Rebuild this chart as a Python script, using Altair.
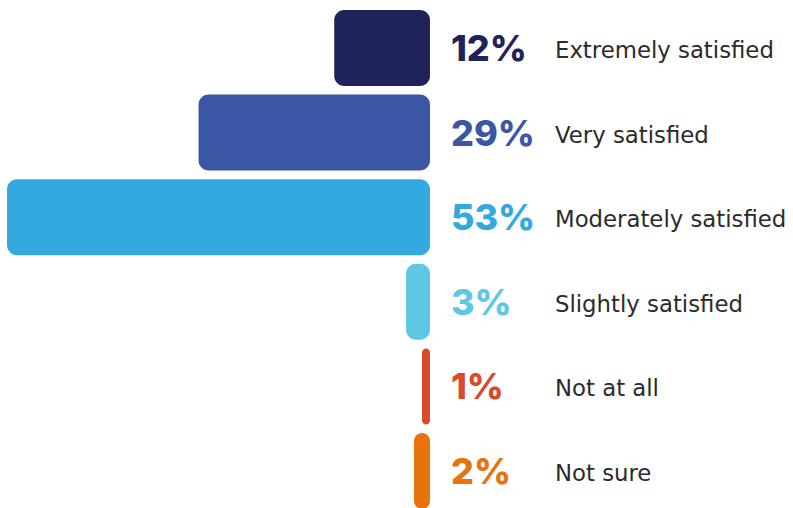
import altair as alt
import pandas as pd

categories = ["Extremely satisfied", "Very satisfied", "Moderately satisfied",
              "Slightly satisfied", "Not at all", "Not sure"]
values = [12, 29, 53, 3, 1, 2]
colors = ["#1f2359", "#3a56a5", "#33a9e0", "#5ec8e4", "#d94a2b", "#e8720c"]

df = pd.DataFrame({
    "category": categories,
    "value": values,
    "neg": [-v for v in values],
    "zero": [0] * len(values),
    "label": [f"{v}%" for v in values],
})

x_scale = alt.Scale(domain=[-53.88, 45.49], range=[0, 793], nice=False, zero=False)
y_scale = alt.Scale(domain=categories, range=[10, 509], paddingInner=0.1017, paddingOuter=0)
color_scale = alt.Scale(domain=categories, range=colors)

base = alt.Chart(df).encode(
    y=alt.Y("category:N", scale=y_scale, axis=None, sort=categories),
)

bars = base.mark_bar(cornerRadius=10, clip=True).encode(
    x=alt.X("neg:Q", scale=x_scale, axis=None),
    x2="zero:Q",
    color=alt.Color("category:N", scale=color_scale, legend=None),
)

pct = base.mark_text(align="left", baseline="middle", dx=21, dy=2,
                     font="Inter", fontWeight=800, fontSize=36).encode(
    x=alt.X("zero:Q", scale=x_scale, axis=None),
    text="label:N",
    color=alt.Color("category:N", scale=color_scale, legend=None),
)

cat = base.mark_text(align="left", baseline="middle", dx=125, dy=3,
                     font="DejaVu Sans", fontSize=22.8, color="#2b2b2b").encode(
    x=alt.X("zero:Q", scale=x_scale, axis=None),
    text="category:N",
)

chart = (bars + pct + cat).properties(
    width=793, height=508, padding=0, autosize="none",
).configure_view(stroke=None)

chart.save("out.html", embed_options={"renderer": "svg", "actions": False})
